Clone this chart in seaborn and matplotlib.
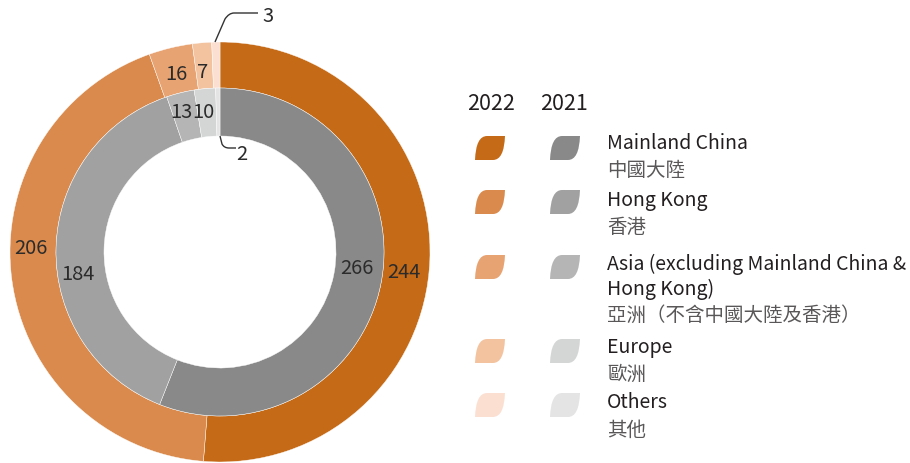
import matplotlib
matplotlib.use("Agg")
import matplotlib.pyplot as plt
from matplotlib.path import Path
from matplotlib.patches import PathPatch
import seaborn as sns

# ---------------- data ----------------
regions_en = ["Mainland China", "Hong Kong", "Asia (excluding Mainland China &\nHong Kong)", "Europe", "Others"]
regions_zh = ["中國大陸", "香港", "亞洲（不含中國大陸及香港）", "歐洲", "其他"]
values_2022 = [244, 206, 16, 7, 3]
values_2021 = [266, 184, 13, 10, 2]
year_labels = ["2022", "2021"]

colors_2022 = ["#C56A17", "#D98A4C", "#E8A372", "#F3C3A0", "#FBE0D2"]
colors_2021 = ["#898989", "#A1A1A1", "#B5B5B5", "#D4D6D5", "#E4E4E4"]

sns.set_theme(style="white")
plt.rcParams["font.family"] = ["Noto Sans CJK TC", "DejaVu Sans"]

W, H = 910, 463
fig = plt.figure(figsize=(W / 100, H / 100), dpi=100)
ax = fig.add_axes([0, 0, 1, 1])

def Y(y):  # image y (top-down) -> data y
    return H - y

cx, cy = 220, Y(252)
ax.pie(values_2022, radius=210, center=(cx, cy), startangle=90, counterclock=False,
       colors=colors_2022, wedgeprops=dict(width=46, edgecolor="white", linewidth=0.3))
ax.pie(values_2021, radius=164, center=(cx, cy), startangle=90, counterclock=False,
       colors=colors_2021, wedgeprops=dict(width=48, edgecolor="white", linewidth=0.3))

ax.set_xlim(0, W)
ax.set_ylim(0, H)
ax.set_aspect("equal")
ax.axis("off")

num_color = "#2B2B2B"
fs_num = 14.5
# value label positions (image coords)
pos_2022 = [(404, 272), (31, 248), (176, 74), (203, 72), (268, 17)]
pos_2021 = [(357, 268), (78, 275), (181, 113), (203, 113), (242, 155)]
for v, (x, y) in zip(values_2022, pos_2022):
    ax.text(x, Y(y), str(v), ha="center", va="center", fontsize=fs_num, color=num_color)
for v, (x, y) in zip(values_2021, pos_2021):
    ax.text(x, Y(y), str(v), ha="center", va="center", fontsize=fs_num, color=num_color)

# leader lines for tiny slices
def leader(pts, codes):
    p = Path([(x, Y(y)) for x, y in pts], codes)
    ax.add_patch(PathPatch(p, fill=False, edgecolor="#333333", linewidth=1.0))

leader([(215, 42), (225, 19), (229, 13), (234, 13), (258, 13)],
       [Path.MOVETO, Path.LINETO, Path.CURVE3, Path.CURVE3, Path.LINETO])
leader([(220, 136), (222, 144), (224, 148), (229, 148), (236, 148)],
       [Path.MOVETO, Path.LINETO, Path.CURVE3, Path.CURVE3, Path.LINETO])

# ---------------- legend ----------------
ax.text(491, Y(104), year_labels[0], ha="center", va="center", fontsize=15.5, color="#231F20")
ax.text(564, Y(104), year_labels[1], ha="center", va="center", fontsize=15.5, color="#231F20")

def leaf(x0, yc, color, w=30, h=24):
    y0 = Y(yc) - h / 2
    verts = [(x0, y0), (x0 + 0.6 * w, y0), (x0 + 0.97 * w, y0), (x0 + w, y0 + h),
             (x0 + 0.4 * w, y0 + h), (x0 + 0.03 * w, y0 + h), (x0, y0), (x0, y0)]
    codes = [Path.MOVETO, Path.LINETO, Path.CURVE3, Path.CURVE3,
             Path.LINETO, Path.CURVE3, Path.CURVE3, Path.CLOSEPOLY]
    ax.add_patch(PathPatch(Path(verts, codes), facecolor=color, edgecolor="none"))

leaf_rows = [148, 202, 267, 351, 405]
en_top = [133, 190, 254, 337, 392]
zh_base = [176, 233, 321, 380, 436]
for i in range(len(regions_en)):
    leaf(475, leaf_rows[i], colors_2022[i])
    leaf(550, leaf_rows[i], colors_2021[i])
    ax.text(607, Y(en_top[i]), regions_en[i], ha="left", va="top", fontsize=14,
            color="#231F20", linespacing=1.2)
    ax.text(607, Y(zh_base[i]), regions_zh[i], ha="left", va="baseline", fontsize=14,
            color="#595757")

fig.savefig("out.png", dpi=100)
